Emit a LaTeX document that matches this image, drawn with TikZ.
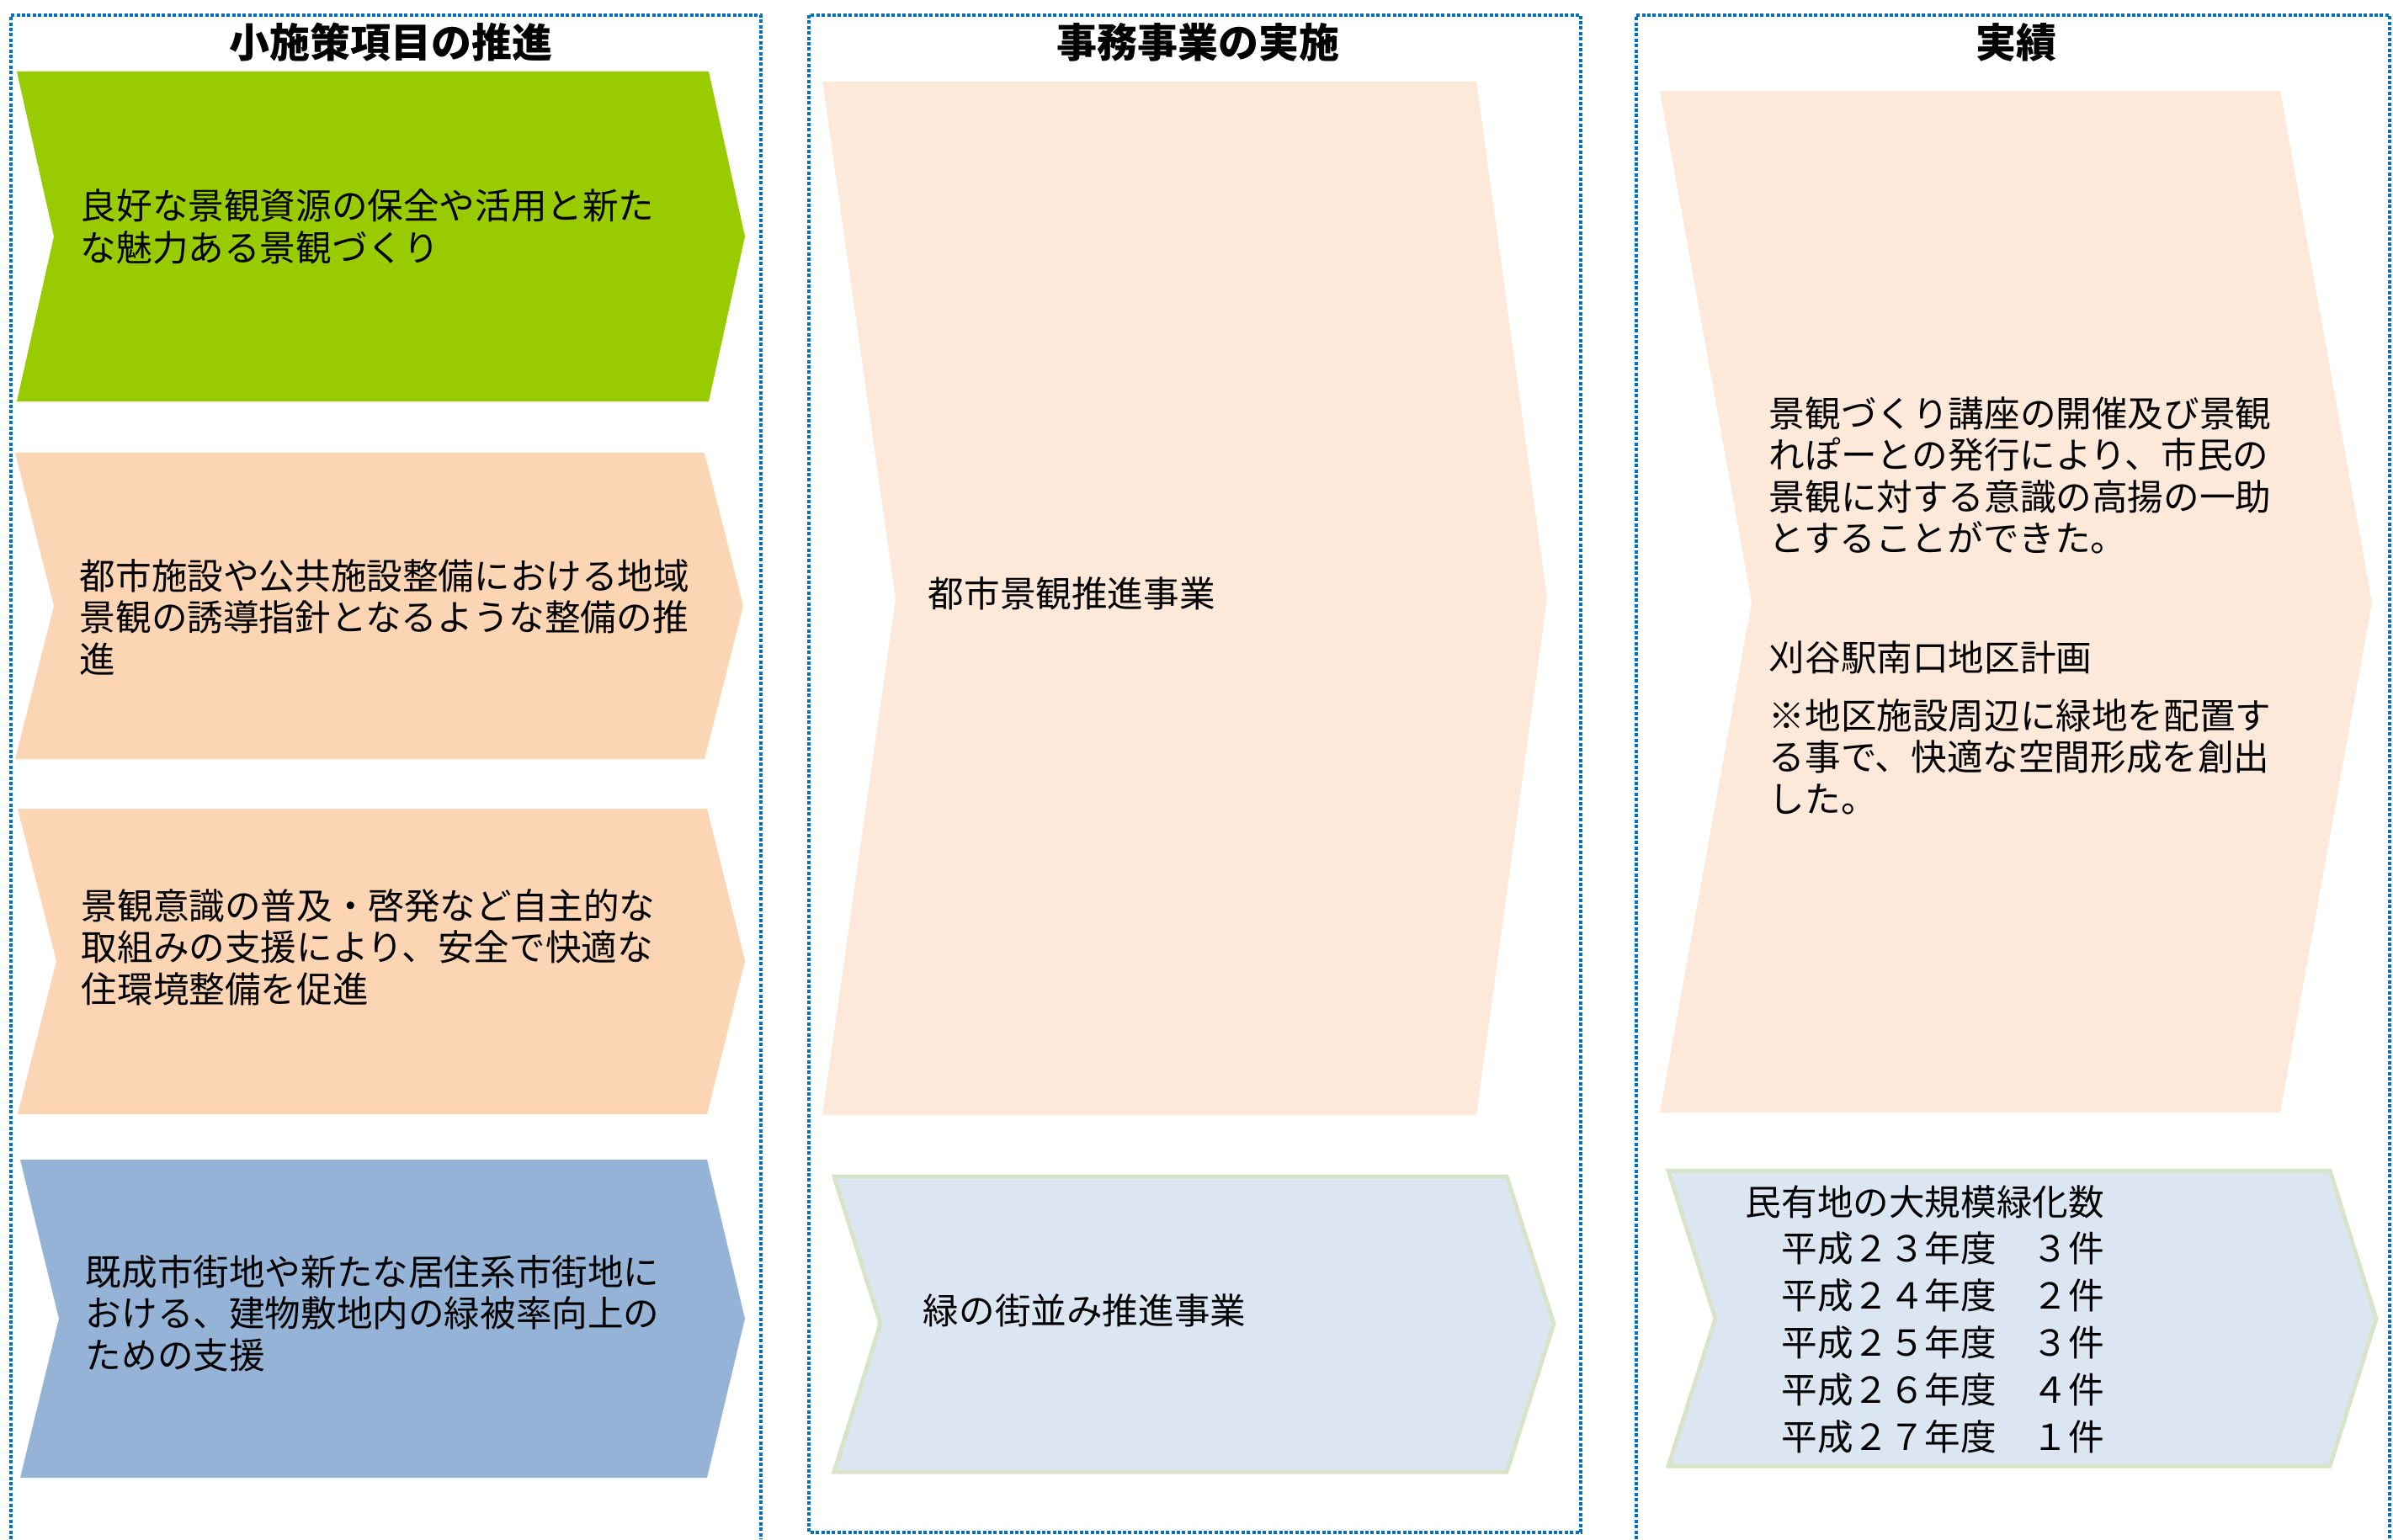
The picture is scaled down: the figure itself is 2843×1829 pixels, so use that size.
\documentclass[tikz,border=0pt]{standalone}
\usepackage{fontspec}
\setmainfont{Noto Sans CJK JP}
\definecolor{frameblue}{HTML}{0070C0}
\definecolor{leafgreen}{HTML}{99CC00}
\definecolor{peach}{HTML}{FCD5B4}
\definecolor{lightpeach}{HTML}{FDE9D9}
\definecolor{steelblue}{HTML}{95B3D7}
\definecolor{paleblue}{HTML}{DCE6F2}
\definecolor{palegreen}{HTML}{D8E4C8}
\tikzset{
  frame/.style={draw=frameblue, line width=0.8pt, dash pattern=on 1pt off 0.6pt},
  coltitle/.style={font=\fontsize{12pt}{14pt}\selectfont\bfseries, inner sep=0pt, anchor=base},
  body/.style={font=\fontsize{10.65pt}{12.4pt}\selectfont, inner sep=0pt, anchor=base west},
  listbody/.style={font=\fontsize{10.65pt}{13.95pt}\selectfont, inner sep=0pt, anchor=base west},
  paleshape/.style={fill=paleblue, draw=palegreen, line width=1.25pt, line join=miter}
}
\begin{document}
\begin{tikzpicture}[x=0.25pt,y=-0.25pt]
\useasboundingbox (0,0) rectangle (2843,1829);

% column frames
\draw[frame] (13,1829) |- (904,18) -- (904,1829);
\draw[frame] (961,18) rectangle (1878,1821);
\draw[frame] (1944,1829) |- (2839,18) -- (2839,1829);

% titles
\node[coltitle] (h1) at (464,69) {小施策項目の推進};
\node[coltitle] (h2) at (1423,69) {事務事業の実施};
\node[coltitle] (h3) at (2395,69) {実績};

% column 1 chevrons
\fill[leafgreen] (20,85) -- (842,85) -- (885,281) -- (842,477) -- (20,477) -- (64,281) -- cycle;
\fill[peach] (18,538) -- (837,538) -- (883,720) -- (837,902) -- (18,902) -- (64,720) -- cycle;
\fill[peach] (21,961) -- (840,961) -- (885,1142) -- (840,1324) -- (21,1324) -- (67,1142) -- cycle;
\fill[steelblue] (24,1378) -- (840,1378) -- (885,1567) -- (840,1756) -- (24,1756) -- (70,1567) -- cycle;

% column 2 chevrons
\fill[lightpeach] (977,97) -- (1754,97) -- (1838,711) -- (1754,1325) -- (977,1325) -- (1064,711) -- cycle;
\path[paleshape] (991,1398) -- (1790,1398) -- (1846,1573) -- (1790,1749) -- (991,1749) -- (1046,1573) -- cycle;

% column 3 chevrons
\fill[lightpeach] (1972,108) -- (2709,108) -- (2818,716) -- (2709,1322) -- (1972,1322) -- (2081,716) -- cycle;
\path[paleshape] (1982,1391) -- (2768,1391) -- (2823,1567) -- (2768,1742) -- (1982,1742) -- (2038,1567) -- cycle;

% column 1 texts
\node[body] (g1) at (95,261) {\parbox[t]{200pt}{\raggedright 良好な景観資源の保全や活用と新た\\な魅力ある景観づくり}};
\node[body] (p1) at (94,700) {\parbox[t]{200pt}{\raggedright 都市施設や公共施設整備における地域\\景観の誘導指針となるような整備の推\\進}};
\node[body] (p2) at (96,1092) {\parbox[t]{200pt}{\raggedright 景観意識の普及・啓発など自主的な\\取組みの支援により、安全で快適な\\住環境整備を促進}};
\node[body] (b1) at (101,1527) {\parbox[t]{200pt}{\raggedright 既成市街地や新たな居住系市街地に\\おける、建物敷地内の緑被率向上の\\ための支援}};

% column 2 texts
\node[body] (m1) at (1102,721) {都市景観推進事業};
\node[body] (m2) at (1096,1573) {緑の街並み推進事業};

% column 3 texts
\node[body] (r1) at (2101,507) {\parbox[t]{200pt}{\raggedright 景観づくり講座の開催及び景観\\れぽーとの発行により、市民の\\景観に対する意識の高揚の一助\\とすることができた。}};
\node[body] (r2) at (2101,797) {刈谷駅南口地区計画};
\node[body] (r3) at (2101,866) {\parbox[t]{200pt}{\raggedright ※地区施設周辺に緑地を配置す\\る事で、快適な空間形成を創出\\した。}};
\node[listbody] (r4) at (2073,1444) {\parbox[t]{200pt}{\raggedright 民有地の大規模緑化数\\　平成２３年度　３件\\　平成２４年度　２件\\　平成２５年度　３件\\　平成２６年度　４件\\　平成２７年度　１件}};
\end{tikzpicture}
\end{document}
